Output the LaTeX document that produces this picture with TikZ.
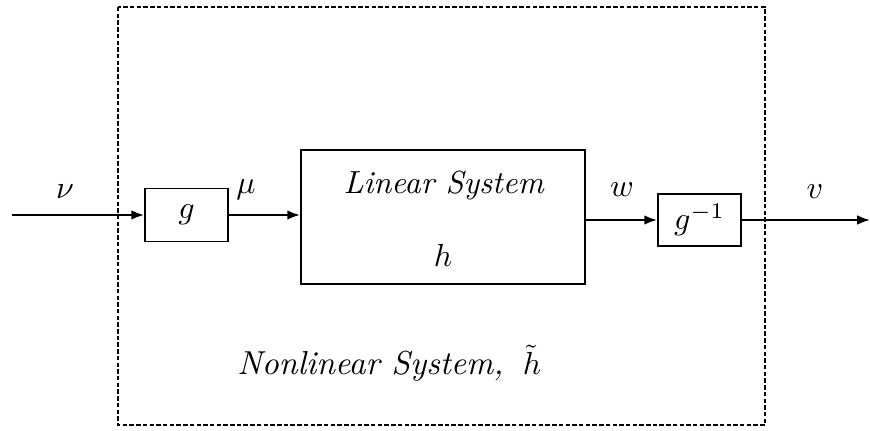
\documentclass[tikz,border=0pt]{standalone}
\usepackage{amsmath}
\usetikzlibrary{arrows.meta,positioning}

\begin{document}
\begin{tikzpicture}[x=0.11cm, y=-0.11cm, font=\normalsize,
  block/.style={draw, line width=0.6pt, inner sep=0pt},
  signal/.style={-{Latex[length=4pt,width=3pt]}, line width=0.6pt},
  frame/.style={line width=0.7pt, dash pattern=on 1.4pt off 0.7pt}]
  \useasboundingbox (0,0) rectangle (87,43.1);

  % Outer boundary of the nonlinear system
  \draw[frame] (11.8,0.7) rectangle (76.5,42.5);

  % Blocks
  \node[block, minimum width=0.913cm, minimum height=0.583cm] (g) at (18.65,21.5) {$g$};
  \node[block, minimum width=3.124cm, minimum height=1.474cm] (lin) at (44.3,21.7) {};
  \node[block, minimum width=0.913cm, minimum height=0.572cm] (ginv) at (69.95,22.0) {$g^{-1}$};

  % Texts inside the linear block
  \node (linname) at (44.4,18.6) {\textit{Linear System}};
  \node (linh) at (44.3,25.5) {$h$};

  % Signal ends
  \coordinate (in) at (1.2,21.5);
  \coordinate (out) at (87,22.0);

  % Connections
  \draw[signal] (in) -- (in -| g.west);
  \draw[signal] (g.east) -- (g.east -| lin.west);
  \draw[signal] (lin.east |- ginv.west) -- (ginv.west);
  \draw[signal] (ginv.east) -- (out);

  % Signal labels
  \node (nu) at (6.5,19.2) {$\nu$};
  \node (mu) at (24.6,19.0) {$\mu$};
  \node (w) at (62.2,19.0) {$w$};
  \node (v) at (81.5,19.2) {$v$};

  % Label of the whole system
  \node[anchor=west, font=\fontsize{10.4pt}{12pt}\selectfont] (nlname) at (22.6,36.3)
    {\textit{Nonlinear System,}\hspace{6pt}$\tilde{h}$};
\end{tikzpicture}
\end{document}
